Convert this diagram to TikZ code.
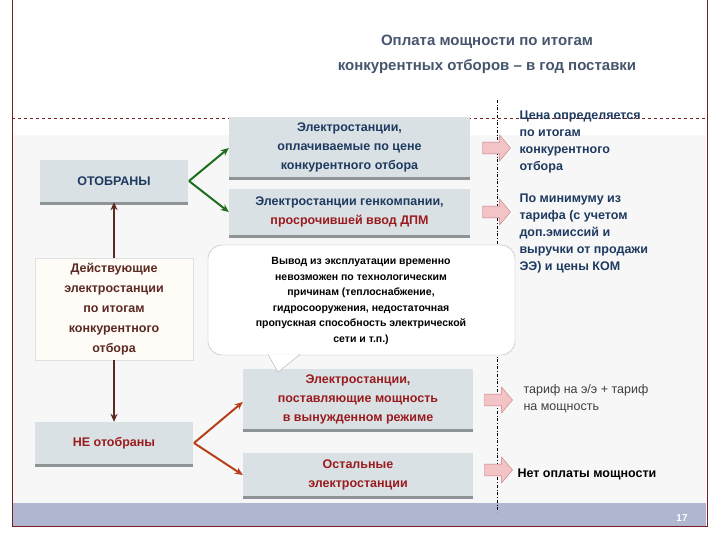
\documentclass[tikz,border=0pt]{standalone}
\usepackage{fontspec}
\setmainfont{Liberation Sans}
\usetikzlibrary{shapes.arrows,arrows.meta}
\definecolor{navy}{HTML}{1F3A60}
\definecolor{dred}{HTML}{9A1B1E}
\definecolor{boxg}{HTML}{D9E1E4}
\definecolor{shad}{HTML}{8E9396}
\definecolor{frame}{HTML}{7A1F28}
\definecolor{band}{HTML}{AEB6D0}
\definecolor{brown}{HTML}{5A2A22}
\definecolor{garrow}{HTML}{1E6E1E}
\definecolor{oarrow}{HTML}{B5401A}
\definecolor{pinkf}{HTML}{F2C4C6}
\definecolor{pinkd}{HTML}{C97C80}
\begin{document}
\begin{tikzpicture}[x=1pt,y=-1pt,
  gbox/.style={fill=boxg,align=center,inner sep=2pt},
  bt/.style={align=center,font=\bfseries\fontsize{12.5}{19}\selectfont},
  arr/.style={-{Stealth[length=8pt,width=7pt]},line width=2pt},
  pink/.style={single arrow,draw=pinkd,fill=pinkf,minimum width=26pt,single arrow head extend=5pt,minimum height=28pt,inner sep=4pt,single arrow tip angle=100},
  rtext/.style={anchor=west,align=left,font=\bfseries\fontsize{12.5}{17}\selectfont,text=navy}]
\useasboundingbox (0,0) rectangle (720,540);
\fill[white] (0,0) rectangle (720,540);
\fill[gray!6] (13,135) rectangle (706,503);
\fill[band] (13,503) rectangle (706,526);
\draw[frame,line width=1pt] (12,0) -- (12,526) -- (707,526) -- (707,0);
\draw[frame,dashed,line width=0.5pt] (12,118) -- (707,118);
\draw[black,dash dot,line width=0.5pt] (497,100) -- (497,512);
\node[text=navy!60!gray,align=center,font=\bfseries\fontsize{15}{25}\selectfont] (title) at (487,54) {Оплата мощности по итогам\\конкурентных отборов – в год поставки};
% boxes
\newcommand{\gb}[5]{\fill[shad] (#1,#4) rectangle (#2,#4+3);\node[gbox,minimum width=#2-#1,minimum height=#4-#3] (#5) at ({(#1+#2)/2},{(#3+#4)/2}) {};}
\gb{40}{188}{160}{202}{otb}
\node[bt,text=navy] at (otb) {ОТОБРАНЫ};
\gb{229}{470}{117}{177}{b1}
\node[bt,text=navy] at (b1) {Электростанции,\\оплачиваемые по цене\\конкурентного отбора};
\gb{229}{470}{189}{235}{b2}
\node[bt,text=navy] at (b2) {Электростанции генкомпании,\\\textcolor{dred}{просрочившей ввод ДПМ}};
\gb{35}{193}{422}{464}{ne}
\node[bt,text=dred] at (ne) {НЕ отобраны};
\gb{243}{473}{369}{429}{b3}
\node[bt,text=dred] at (b3) {Электростанции,\\поставляющие мощность\\в вынужденном режиме};
\gb{243}{473}{453}{496}{b4}
\node[bt,text=dred] at (b4) {Остальные\\электростанции};
% callout
\draw[gray!60,fill=white,rounded corners=14pt] (208,245) rectangle (515,355);
\draw[gray!60,fill=white] (268,354.5) -- (278,372) -- (300,354.5);
\node[align=center,font=\bfseries\fontsize{10.5}{15.5}\selectfont] (call) at (361,301) {Вывод из эксплуатации временно\\невозможен по технологическим\\причинам (теплоснабжение,\\гидросооружения, недостаточная\\пропускная способность электрической\\сети и т.п.)};
% existing
\node[draw=gray!25,fill=orange!3,minimum width=158pt,minimum height=102pt,align=center,text=brown,font=\bfseries\fontsize{12.5}{20}\selectfont] (act) at (114,309) {Действующие\\электростанции\\по итогам\\конкурентного\\отбора};
\draw[arr,brown,line width=1.8pt] (act.north) -- (otb.south);
\draw[arr,brown,line width=1.8pt] (act.south) -- (ne.north);
\coordinate (gfrom) at (189,181);
\draw[arr,garrow] (gfrom) -- (b1.west |- 0,148);
\draw[arr,garrow] (gfrom) -- (b2.west |- 0,212);
\coordinate (ofrom) at (194,443);
\draw[arr,oarrow] (ofrom) -- (b3.west |- 0,402);
\draw[arr,oarrow] (ofrom) -- (b4.west |- 0,475);
% pink arrows
\node[pink] (p1) at (494,148) {};
\node[pink] (p2) at (494,212) {};
\node[pink] (p3) at (496,400) {};
\node[pink] (p4) at (496,470) {};
\node[rtext,anchor=north west] (r1) at (516,107) {Цена определяется\\по итогам\\конкурентного\\отбора};
\node[rtext,anchor=north west] (r2) at (516,190) {По минимуму из\\тарифа (с учетом\\доп.эмиссий и\\выручки от продажи\\ЭЭ) и цены КОМ};
\node[rtext,font=\fontsize{12.5}{17}\selectfont,text=black!75] (r3) at (520,399) {тариф на э/э + тариф\\на мощность};
\node[rtext,text=black] (r4) at (514,474) {Нет оплаты мощности};
\node[text=white,font=\bfseries\fontsize{10}{10}\selectfont] (pg) at (682,518) {17};
\end{tikzpicture}
\end{document}
